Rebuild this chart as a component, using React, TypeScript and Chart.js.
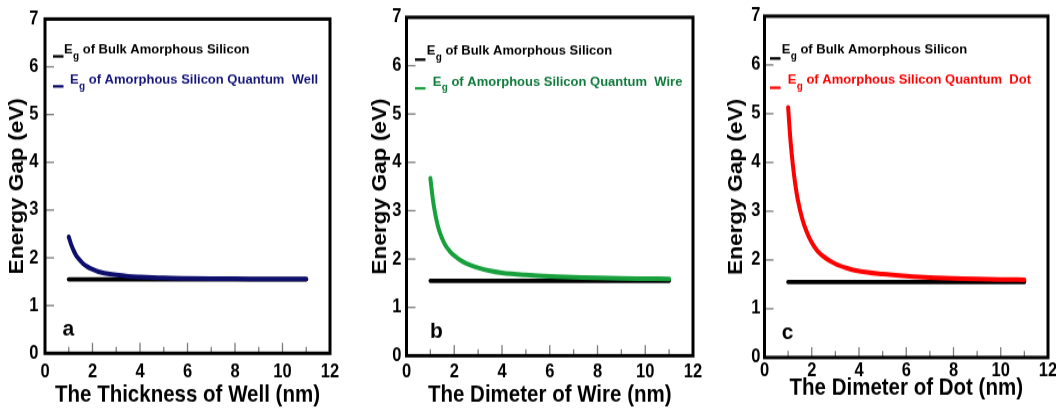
import React, { useEffect, useRef } from "react";
import { Chart, registerables } from "chart.js";

Chart.register(...registerables);

// ---- data -------------------------------------------------------------
// structure size (nm) at which the gap was sampled
const sizeNm = [1, 1.1, 1.2, 1.3, 1.4, 1.6, 1.8, 2, 2.25, 2.5, 3, 3.5, 4, 5, 6, 7, 8, 9, 10, 11];
// energy gap (eV) of the confined structures
const wellGap = [2.44, 2.28, 2.16, 2.06, 1.99, 1.88, 1.81, 1.76, 1.71, 1.68, 1.64, 1.614, 1.6, 1.58, 1.571, 1.565, 1.561, 1.559, 1.557, 1.556];
const wireGap = [3.67, 3.25, 2.94, 2.71, 2.54, 2.31, 2.17, 2.07, 1.98, 1.91, 1.82, 1.755, 1.715, 1.67, 1.64, 1.625, 1.61, 1.6, 1.595, 1.59];
const dotGap = [5.13, 4.45, 3.95, 3.56, 3.26, 2.84, 2.56, 2.36, 2.18, 2.07, 1.92, 1.83, 1.77, 1.71, 1.67, 1.64, 1.625, 1.61, 1.6, 1.595];
// bulk amorphous silicon reference line
const bulkSize = [1, 11];
const bulkGap = [1.55, 1.55];

// axis ticks
const xTickValues = [0, 2, 4, 6, 8, 10, 12];
const xTickMarks = [1, 2, 3, 4, 5, 6, 7, 8, 9, 10, 11];
const yTickValues = [0, 1, 2, 3, 4, 5, 6, 7];

const bulkLabel = "of Bulk Amorphous Silicon";
const yTitle = "Energy Gap (eV)";

// ---- layout -----------------------------------------------------------
const FONT = '"Liberation Sans", Arial, Helvetica, sans-serif';
const CANVAS_W = 352;
const CANVAS_H = 354;
const S = 411 / CANVAS_H; // vertical stretch applied to each canvas

type Panel = {
  letter: string;
  xTitle: string;
  label: string;
  values: number[];
  color: string;
  textColor: string;
  canvasLeft: number;
  yAxisW: number;
  padRight: number;
  top: number;
  bottom: number;
  yTickPad: number;
  xTickPad: number;
  xTitlePad: number;
  yTitlePad: number;
  markX: number;
  mark1Y: number;
  mark2Y: number;
  text1X: number;
  base1: number;
  text2X: number;
  base2: number;
  letterX: number;
  letterUp: number;
};

const panels: Panel[] = [
  {
    letter: "a",
    xTitle: "The Thickness of Well (nm)",
    label: "of Amorphous Silicon Quantum  Well",
    values: wellGap,
    color: "#0e0e6c",
    textColor: "#14147a",
    canvasLeft: 0,
    yAxisW: 45,
    padRight: 22,
    top: 15.7,
    bottom: 353.3,
    yTickPad: 6.5,
    xTickPad: 6.2,
    xTitlePad: 1.6,
    yTitlePad: 5.8,
    markX: 8,
    mark1Y: 37.3,
    mark2Y: 67.3,
    text1X: 19,
    base1: 34.3,
    text2X: 25,
    base2: 64.3,
    letterX: 17.5,
    letterUp: 17.3,
  },
  {
    letter: "b",
    xTitle: "The Dimeter of Wire (nm)",
    label: "of Amorphous Silicon Quantum  Wire",
    values: wireGap,
    color: "#17a03c",
    textColor: "#0e7a3a",
    canvasLeft: 362,
    yAxisW: 44.5,
    padRight: 21,
    top: 15.7,
    bottom: 355.7,
    yTickPad: 5,
    xTickPad: 4.5,
    xTitlePad: 1.5,
    yTitlePad: 6.8,
    markX: 8.5,
    mark1Y: 42.3,
    mark2Y: 71,
    text1X: 20.2,
    base1: 37.6,
    text2X: 26.2,
    base2: 68.3,
    letterX: 23.5,
    letterUp: 17.4,
  },
  {
    letter: "c",
    xTitle: "The Dimeter of Dot (nm)",
    label: "of Amorphous Silicon Quantum  Dot",
    values: dotGap,
    color: "#ff0000",
    textColor: "#ff0000",
    canvasLeft: 719,
    yAxisW: 45.5,
    padRight: 23,
    top: 15.7,
    bottom: 357.5,
    yTickPad: 4,
    xTickPad: 1.2,
    xTitlePad: 7.5,
    yTitlePad: 6.3,
    markX: 5.5,
    mark1Y: 42.3,
    mark2Y: 71.6,
    text1X: 17.2,
    base1: 37,
    text2X: 23.2,
    base2: 67.6,
    letterX: 17.2,
    letterUp: 18.2,
  },
];

// Text drawn at its natural proportions inside the stretched canvas.
function drawUnstretched(
  ctx: CanvasRenderingContext2D,
  text: string,
  x: number,
  pageY: number,
  font: string,
  color: string
) {
  ctx.save();
  ctx.translate(x, pageY / S);
  ctx.scale(1, 1 / S);
  ctx.font = font;
  ctx.fillStyle = color;
  ctx.textBaseline = "alphabetic";
  ctx.textAlign = "left";
  ctx.fillText(text, 0, 0);
  ctx.restore();
}

function drawLegendRow(
  ctx: CanvasRenderingContext2D,
  x: number,
  pageBase: number,
  label: string,
  color: string,
  size: number
) {
  const main = `bold ${size}px ${FONT}`;
  const sub = `bold ${size - 3}px ${FONT}`;
  ctx.save();
  ctx.font = main;
  const wE = ctx.measureText("E").width;
  ctx.font = sub;
  const wG = ctx.measureText("g").width;
  ctx.restore();
  drawUnstretched(ctx, "E", x, pageBase, main, color);
  drawUnstretched(ctx, "g", x + wE + 0.3, pageBase + 5.5, sub, color);
  drawUnstretched(ctx, " " + label, x + wE + 0.3 + wG, pageBase, main, color);
}

function decorPlugin(p: Panel) {
  return {
    id: "panelDecor",
    afterDraw(chart: any) {
      const { ctx, chartArea: a, scales } = chart;
      const xs = scales.x;
      const ys = scales.y;
      ctx.save();

      // inward tick marks
      ctx.strokeStyle = "#7a7a7a";
      ctx.lineWidth = 1.3;
      for (const v of xTickMarks) {
        const px = xs.getPixelForValue(v);
        const len = ((v % 2 === 0 ? 9 : 5) + 1.5) / S;
        ctx.beginPath();
        ctx.moveTo(px, a.bottom);
        ctx.lineTo(px, a.bottom - len);
        ctx.stroke();
      }
      for (const v of yTickValues) {
        if (v === 0 || v === 7) continue;
        const py = ys.getPixelForValue(v);
        ctx.beginPath();
        ctx.moveTo(a.left, py);
        ctx.lineTo(a.left + 9, py);
        ctx.stroke();
      }

      // plot frame
      ctx.strokeStyle = "#000";
      ctx.lineWidth = 3;
      ctx.lineCap = "square";
      ctx.strokeRect(a.left, a.top, a.right - a.left, a.bottom - a.top);

      // legend markers
      const topPage = a.top * S;
      const markH = 2.6 / S;
      ctx.fillStyle = "#000";
      ctx.fillRect(a.left + p.markX, (topPage + p.mark1Y) / S - markH / 2, 10.5, markH);
      ctx.fillStyle = p.color;
      ctx.fillRect(a.left + p.markX, (topPage + p.mark2Y) / S - markH / 2, 10.5, markH);
      ctx.restore();

      // legend text
      drawLegendRow(ctx, a.left + p.text1X, topPage + p.base1, bulkLabel, "#000", 13);
      drawLegendRow(ctx, a.left + p.text2X, topPage + p.base2, p.label, p.textColor, 13);

      // panel letter
      drawUnstretched(
        ctx,
        p.letter,
        a.left + p.letterX,
        a.bottom * S - p.letterUp,
        `bold 21px ${FONT}`,
        "#000"
      );
    },
  };
}

function GapPanel({ p }: { p: Panel }) {
  const ref = useRef<HTMLCanvasElement>(null);

  useEffect(() => {
    const canvas = ref.current;
    if (!canvas) return;
    const tickFont = { family: FONT, size: 16.5, weight: "bold" as const };
    const xTitleFont = { family: FONT, size: 20.5, weight: "bold" as const };
    const yTitleFont = { family: FONT, size: 19.5, weight: "bold" as const };
    const chart = new Chart(canvas, {
      type: "line",
      data: {
        datasets: [
          {
            data: sizeNm.map((x, i) => ({ x, y: p.values[i] })),
            borderColor: p.color,
            borderWidth: 4,
            borderCapStyle: "round",
            cubicInterpolationMode: "monotone",
            pointRadius: 0,
            order: 0,
          },
          {
            data: bulkSize.map((x, i) => ({ x, y: bulkGap[i] })),
            borderColor: "#000",
            borderWidth: 3.8,
            borderCapStyle: "round",
            pointRadius: 0,
            order: 1,
          },
        ],
      },
      options: {
        responsive: false,
        animation: false,
        devicePixelRatio: 1,
        layout: { padding: { top: p.top / S, right: p.padRight, left: 0, bottom: 0 } },
        plugins: { legend: { display: false }, tooltip: { enabled: false } },
        elements: { point: { radius: 0 } },
        scales: {
          x: {
            type: "linear",
            min: 0,
            max: 12,
            afterBuildTicks: (ax: any) => {
              ax.ticks = xTickValues.map((value) => ({ value }));
            },
            afterFit: (ax: any) => {
              ax.height = CANVAS_H - p.bottom / S;
            },
            grid: { display: false, drawTicks: false },
            border: { display: false },
            ticks: {
              autoSkip: false,
              maxRotation: 0,
              padding: p.xTickPad,
              color: "#000",
              font: tickFont,
            },
            title: {
              display: true,
              text: p.xTitle,
              color: "#000",
              font: xTitleFont,
              padding: { top: 0, bottom: p.xTitlePad },
            },
          },
          y: {
            type: "linear",
            min: 0,
            max: 7,
            afterBuildTicks: (ax: any) => {
              ax.ticks = yTickValues.map((value) => ({ value }));
            },
            afterFit: (ax: any) => {
              ax.width = p.yAxisW;
            },
            grid: { display: false, drawTicks: false },
            border: { display: false },
            ticks: {
              padding: p.yTickPad,
              color: "#000",
              font: tickFont,
            },
            title: {
              display: true,
              text: yTitle,
              color: "#000",
              font: yTitleFont,
              padding: { top: p.yTitlePad, bottom: 0 },
            },
          },
        },
      },
      plugins: [decorPlugin(p)],
    } as any);
    return () => chart.destroy();
  }, [p]);

  return (
    <div
      style={{
        position: "absolute",
        left: p.canvasLeft,
        top: 0,
        width: CANVAS_W,
        height: CANVAS_H,
        transform: `scaleY(${S})`,
        transformOrigin: "0 0",
      }}
    >
      <canvas
        ref={ref}
        width={CANVAS_W}
        height={CANVAS_H}
        style={{ display: "block", width: `${CANVAS_W}px`, height: `${CANVAS_H}px` }}
      />
    </div>
  );
}

export default function App() {
  return (
    <div
      style={{
        position: "absolute",
        left: 0,
        top: 0,
        width: 1056,
        height: 411,
        overflow: "hidden",
        background: "#fff",
      }}
    >
      {panels.map((p) => (
        <GapPanel key={p.letter} p={p} />
      ))}
    </div>
  );
}
